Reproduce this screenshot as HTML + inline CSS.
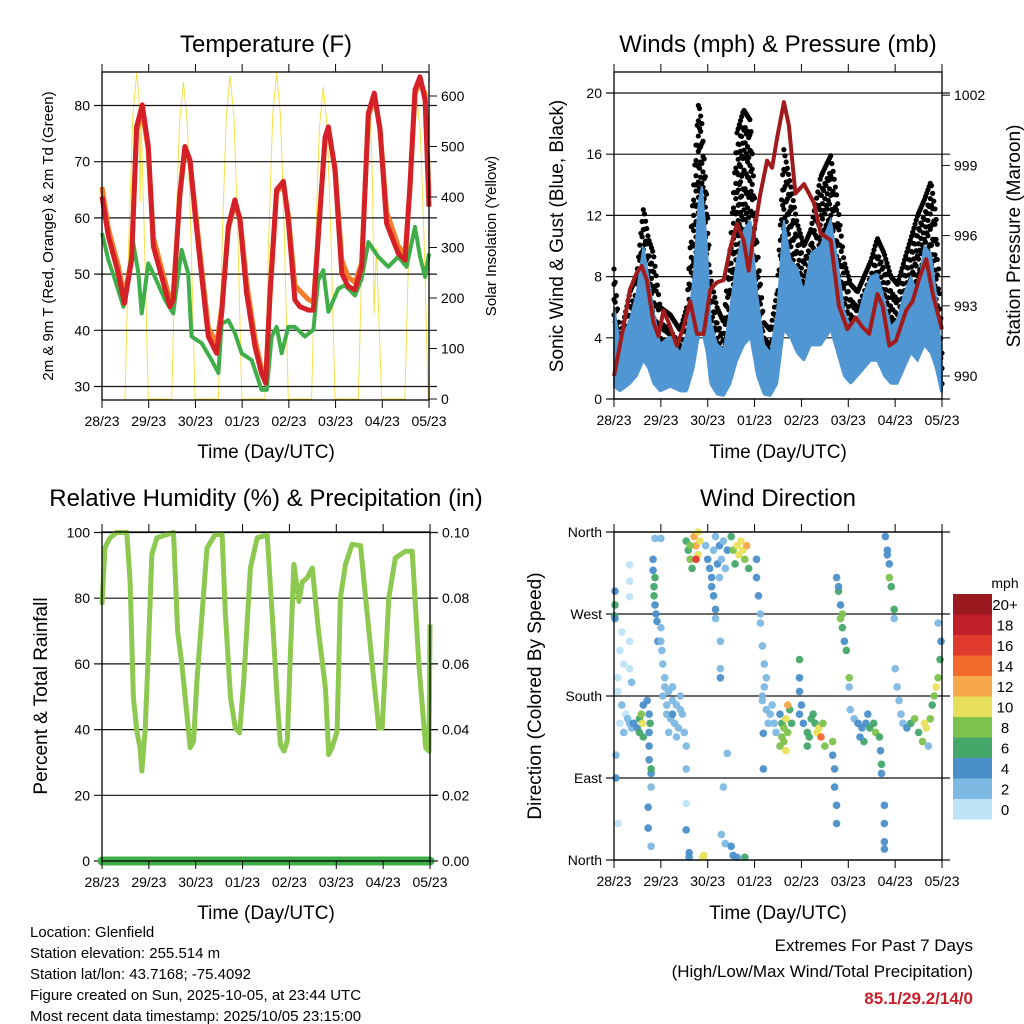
<!DOCTYPE html>
<html><head><meta charset="utf-8"><style>
html,body{margin:0;padding:0;background:#fff}
svg{display:block;font-family:"Liberation Sans",Arial,sans-serif}
</style></head><body>
<svg id="chart" width="1024" height="1024" viewBox="0 0 1024 1024">
<rect x="0" y="0" width="1024" height="1024" fill="#fff"/>
<text x="266" y="52" font-size="24" text-anchor="middle">Temperature (F)</text>
<text x="778" y="52" font-size="24" text-anchor="middle">Winds (mph) &amp; Pressure (mb)</text>
<text x="266" y="506" font-size="24" text-anchor="middle">Relative Humidity (%) &amp; Precipitation (in)</text>
<text x="778" y="506" font-size="24" text-anchor="middle">Wind Direction</text>
<text transform="translate(53,236) rotate(-90)" font-size="15" text-anchor="middle">2m &amp; 9m T (Red, Orange) &amp; 2m Td (Green)</text>
<text transform="translate(496,236) rotate(-90)" font-size="15" text-anchor="middle">Solar Insolation (Yellow)</text>
<text transform="translate(563,236) rotate(-90)" font-size="19" text-anchor="middle">Sonic Wind &amp; Gust (Blue, Black)</text>
<text transform="translate(1020,236) rotate(-90)" font-size="19" text-anchor="middle">Station Pressure (Maroon)</text>
<text transform="translate(47,696) rotate(-90)" font-size="19" text-anchor="middle">Percent &amp; Total Rainfall</text>
<text transform="translate(541,696) rotate(-90)" font-size="19" text-anchor="middle">Direction (Colored By Speed)</text>
<text x="266" y="458" font-size="19" text-anchor="middle">Time (Day/UTC)</text>
<text x="778" y="458" font-size="19" text-anchor="middle">Time (Day/UTC)</text>
<text x="266" y="919" font-size="19" text-anchor="middle">Time (Day/UTC)</text>
<text x="778" y="919" font-size="19" text-anchor="middle">Time (Day/UTC)</text>
<g font-size="15">
<text x="30" y="937">Location: Glenfield</text>
<text x="30" y="958">Station elevation: 255.514 m</text>
<text x="30" y="979">Station lat/lon: 43.7168; -75.4092</text>
<text x="30" y="1000">Figure created on Sun, 2025-10-05, at 23:44 UTC</text>
<text x="30" y="1021">Most recent data timestamp: 2025/10/05 23:15:00</text>
</g>
<text x="973" y="951" font-size="17" text-anchor="end">Extremes For Past 7 Days</text>
<text x="973" y="977" font-size="17" text-anchor="end">(High/Low/Max Wind/Total Precipitation)</text>
<text x="973" y="1004" font-size="17" font-weight="bold" fill="#c8202a" text-anchor="end">85.1/29.2/14/0</text>
</svg>
<script>
// ---------- data ----------
const dayLabels=['28/23','29/23','30/23','01/23','02/23','03/23','04/23','05/23'];
const tempTicks=[30,40,50,60,70,80];
const solarTicks=[0,100,200,300,400,500,600];
const windTicks=[0,4,8,12,16,20];
const presTicks=[990,993,996,999,1002];
const rhTicks=[0,20,40,60,80,100];
const precipTicks=['0.00','0.02','0.04','0.06','0.08','0.10'];
const dirLabels=['North','East','South','West','North'];
const dirTicks=[0,90,180,270,360];
const speedBins=['0','2','4','6','8','10','12','14','16','18','20+'];

const redH=[0,3.3,8.4,11.5,15.2,17.8,20.7,23.8,26.4,30.6,34.9,36.6,40,42.6,45.2,47.8,51.2,54.6,58.9,61.5,64.9,68.3,70.9,74.3,78.6,82,84.1,86.3,89.7,93.2,95.7,99.1,101.7,106,108.6,110.3,114.6,116.3,119.7,123.2,126.5,130,133.4,136.8,139.9,142.8,146.2,148.8,152.2,155.7,158.2,160.8,163.4,166,168];
const redT=[63.8,56.7,50.1,44.8,52.5,76.2,80.1,72.7,54.9,49.6,44.2,45.4,64.4,72.7,70.3,60.8,49.6,38.9,35.9,43,58.5,63.2,59.6,46.6,37.1,32.3,30.6,46.6,65,66.5,59.6,45.4,44.2,43.6,43.6,52.5,74.4,76.2,68.5,50.1,47.8,47.2,51.3,78.6,82.2,75.7,59,56.7,53.7,52.5,65.6,82.8,85.1,81,62];
const orangeT=[65.5,58,51.5,46,53,75.5,79,72,56.5,51,45.5,46.5,64,72,70,62,51,40.5,37.5,44,58,62.5,60,48.5,38.5,33,31.5,46,64.5,66,60.5,48,47,45.5,45,53,74,75.5,69,52.5,49.5,48.5,52,78,81.5,76,61,58.5,55,53.5,65,82,84.5,82,64];
const dewH=[0,3.3,6.7,11,13.5,16.1,18.7,20.4,23.8,27.2,32.4,36.6,40.9,44.3,46,51.2,56.3,59.8,61.5,64.9,68.3,71.7,76.9,82,84.6,87.2,89.7,92.3,95.7,99.1,104.3,108.6,111.1,113.7,116.3,121.4,124.8,130,133.4,136.8,141.9,147.1,152.2,156.5,160.8,163.4,166,168];
const dewT=[57.3,52.5,49,44.2,49.5,55.5,50.1,43,51.9,49.5,45.4,43,54.3,50.1,38.9,37.7,34.7,32.4,41.2,41.8,39.5,35.9,34.7,29.4,29.4,38.9,40.6,35.9,40.6,40.6,38.9,40.1,48.9,50.7,43.3,47.4,48,46.2,49.2,55.7,53.1,51.3,53.1,51.3,58.4,53.1,49.5,53.7];
const solarH=[11.8,13.8,15.8,17.8,19,19.6,20,21.8,23.8, 35.8,37.8,39.8,41.8,43.8,45.8,47.8, 59.8,61.8,63.8,65.8,67.8,69.8,71.8, 83.7,85.7,87.7,89.7,91.7,93.7,95.7, 107.7,109.7,111.7,113.7,115.7,117.7,119.7, 131.7,133.7,135.7,137.7,139,139.8,141,143.7, 155.6,157.6,159.6,161.6,163.6,165.6,167.6];
const solarV=[0,320,560,645,600,390,560,320,0, 0,314,546,628,546,314,0, 0,320,557,640,557,320,0, 0,322,561,645,561,322,0, 0,309,538,618,538,309,0, 0,293,510,586,420,170,300,0, 0,303,527,606,527,303,0];

const windH=[0,3.1,8.2,11.6,15.1,17.6,20.2,23.6,28.8,33.9,37.3,40.8,43.3,45,47.6,49.3,52.7,56.2,59.6,63,66.4,69.9,73.3,76.7,80.1,83.6,87,90.4,93.8,97.3,100.7,105.8,111,114.4,117.8,121.2,124.7,128.1,131.5,134.9,138.4,141.8,145.2,148.6,152.1,155.5,158.9,162.3,164.9,167.5,168];
const windHi=[6,3.6,5.2,6.9,10,8,5.8,3.6,4.1,3,4.3,8,12.8,13.9,10,5.2,3.6,3.2,6,9.1,11,11.7,6.9,3.6,3,5.8,11.7,9.1,8.6,6.9,9.5,10,11.7,9.1,5.8,4.7,5.2,6.9,8,8.2,6.5,4.7,5.2,6.9,8,6.9,10,9.5,6.9,3.2,1.9];
const windLo=[0.8,0.5,1,1.5,2.5,2,1,0.5,0.8,0.5,0.5,2,4,4.5,3,1,0.3,0.2,1,2.5,3.5,4,1.5,0.3,0.2,1,4.5,4,3,2.5,3.5,3.5,4.5,3,1.5,1,1.5,2,2.5,2.5,1.5,1,1,2,3,2.5,3.5,3,2,0.5,0.5];
const gustV=[8.5,4,7,8,12.5,10.5,9.5,6,5.5,4.5,6,14,19.4,18,13,8,6,5,10,17.4,18.9,18.2,10,5,4.5,7,16.3,14,11.5,10,11,14.5,15.9,13,9,7.5,7,8,9,10.5,9.5,8,7.5,9,10.5,12,13,14.2,12,5,3];
const presH=[0,4.8,8.2,11.6,14.2,16.8,20.2,22.8,25.3,27.9,32.2,35.6,39,42.5,45.9,49.3,52.7,56.2,59.6,63,66.4,69,71.6,75,78.4,81,83.6,87,89.6,92.9,97.3,102.4,105.8,111,115.2,119.5,123.8,127.2,130.7,134.9,137.6,141,144.4,149.6,153,156.4,159.9,163.3,166.7,168];
const presV=[990,992.1,993.7,994.4,994.7,994.1,992.3,991.7,992.8,992.3,991.3,992.1,993.2,991.8,991.8,993.7,994,994.1,995.5,996.5,995.8,994.5,996.1,997.8,999.2,998.9,1000.2,1001.7,1000.7,997.8,998.2,997.4,996.1,995.8,993,992,992.5,992.1,991.8,993.5,993,991.3,991.5,992.8,993.2,994.2,995,993.5,992.4,992];

const rhH=[0,1.5,4.1,7.5,12.7,14.4,16.1,17.8,19.5,20.4,22.1,23.8,25.5,28.1,36.6,38.7,40.9,43.5,45.2,46.9,48.6,51.2,53.8,58,61.5,63.2,65.8,68.3,70.5,72.6,76,79.5,84.6,87.2,89.7,91.4,93.2,94.9,96.6,98.3,100.9,102.6,105.1,107.7,110.9,114.4,116.1,117.8,120.4,122.1,124.7,128.1,132.4,138.4,141.8,143.5,146.9,150.3,152.9,155.5,158.9,162.3,165.8,167.5,168.5];
const rhV=[78,95.3,98.4,100,100,85,49.7,39.5,34.5,27.4,39.5,64.9,93.3,98.4,100,70,59.8,44.6,34.5,36.5,54.7,75,95.3,99.4,99.4,75,49.7,40.5,39,54.7,89.2,98.4,99.2,75,49.7,35.5,33.5,36.5,64.9,90.3,79,85,86.2,89.2,70,52.7,32.4,34.5,39.5,80.1,90.3,96.4,96,59.8,40.5,40.5,80.1,92.3,93.3,94.3,94.3,59.8,34.5,33.5,72];
const precipH=[0,168];
const precipV=[0,0];

const dirH=[0.5,0.5,0.3,0.5,2,4,6,8,3,5,7,9,2,3,4,5,8,9,1,1,2,8,8,8,8,10,12,13,14,14.5,13,15,15,17,18,18,18,18,19,18.5,19,20,20.5,20.5,21,21.5,22,22.5,21,20,19,17.5,17.5,19,21,24,24,24.5,25,26,25,24,26,28,30,32,34,27,29,31,33,35,30,28,32,36,30,27,34,37,37,37,37,37,38,39,40,41,42,43,44,43,42,39,38.5,38.5,45.5,46,47,48,49,50,51,52,53,54,55,56,57,58,50,51,52,52,54,61,63,64,66,67,65,62,68,60,69,54.5,54.5,54.5,56,55,57,60,61,63,67,58,73,74,75,75,73,76,77,78,76,77,76.5,76.5,76,78,80,82,79,81,83,85,86,87,88,89,90,87,88,86,89,91,85,95,95,95,96,95,97,99,100,101,99,103,104,105,106,107,108,102,112,112,113,113,114,114,114,115,116,117,117,118,119,115,116,120.5,120.5,121,123,125,127,129,131,133,134,136,128,130,126,136.5,137,137,138.5,138.5,138.5,138.5,139,140,141,141,142,140,143.5,143.5,144,145,146,147,148,150,152,154,156,158,160,162,163,164,165,166,167,167.5,166,161,159];
const dirV=[295,280,268,265,185,170,160,150,150,140,155,145,200,230,250,215,210,195,115,90,40,240,324,306,289,150,145,155,160,150,140,135,170,175,160,140,125,110,95,150,100,318,300,290,280,270,262,240,310,330,80,58,35,15,353,353,255,230,215,200,180,240,190,185,175,170,165,160,155,150,145,160,190,140,135,140,160,170,180,125,100,62,33,350,340,330,320,355,345,335,350,360,330,345,8,3,3,5,345,330,320,310,340,355,325,345,330,350,320,340,300,290,275,265,310,340,345,335,340,330,350,325,345,355,320,240,210,200,80,28,18,15,5,3,3,117,310,290,270,260,330,235,215,200,180,190,139,100,175,165,160,150,150,170,140,160,150,145,155,140,165,130,120,135,170,150,125,220,200,185,170,160,150,140,135,155,125,150,140,145,135,150,125,160,130,115,100,80,60,40,310,295,280,270,255,240,230,300,265,200,190,165,155,150,145,150,145,150,140,135,130,160,135,120,105,95,60,40,20,12,355,340,325,310,300,335,275,265,210,190,175,160,150,145,150,155,140,130,145,155,170,180,190,200,220,240,260,125,150];
const dirS=[4,6,6,4,1,2,1,2,1,2,2,3,1,0,0,1,1,2,2,4,1,1,1,1,1,4,4,6,8,10,6,6,4,4,4,4,4,4,4,6,6,4,6,6,4,4,4,4,6,4,2,4,4,2,2,2,2,2,2,2,2,2,2,2,2,2,2,2,2,2,2,2,2,2,2,2,4,2,2,2,2,1,4,6,6,8,6,12,12,10,10,10,16,8,4,4,10,10,2,4,4,4,2,2,4,4,2,2,2,4,4,4,4,2,2,8,10,10,10,8,10,6,12,6,6,2,2,4,2,2,2,4,4,4,6,2,4,4,2,2,4,2,2,2,2,2,4,4,2,2,2,2,2,2,2,4,6,8,10,8,6,8,10,8,12,6,8,6,4,4,4,4,4,6,6,6,6,6,10,10,14,8,8,6,8,4,4,4,4,4,4,6,4,8,6,4,6,4,8,8,2,2,2,4,4,4,6,6,8,6,6,4,4,4,6,4,4,4,4,4,4,4,4,8,6,4,6,2,2,2,2,2,2,4,6,8,6,8,10,8,6,8,10,8,6,4,2,2,10,6];
const speedColors=['#bfe3f7','#7db8e3','#4a8fc9','#45a86a','#7dc24c','#e8e05a','#f7a84a','#f26a2c','#e03a2c','#c1202a','#9b1a1f'];

// ---------- helpers ----------
const NS='http://www.w3.org/2000/svg';
const svg=document.getElementById('chart');
function mk(tag,attrs,parent){const e=document.createElementNS(NS,tag);for(const k in attrs)e.setAttribute(k,attrs[k]);(parent||svg).appendChild(e);return e;}
function interp(hs,vs,h){if(h<=hs[0])return vs[0];for(let i=1;i<hs.length;i++){if(h<=hs[i]){const f=(h-hs[i-1])/(hs[i]-hs[i-1]);return vs[i-1]+f*(vs[i]-vs[i-1]);}}return vs[vs.length-1];}
function pts(hs,vs,xf,yf){return hs.map((h,i)=>xf(h).toFixed(1)+','+yf(vs[i]).toFixed(1)).join(' ');}

const P={
 temp:{L:102,R:429,T:72,B:400},
 wind:{L:614,R:942,T:72,B:399},
 rh:{L:102,R:430,T:532,B:861},
 dir:{L:614,R:942,T:532,B:860}
};
function xs(p){return h=>p.L+Math.min(Math.max(h,0),168)*(p.R-p.L)/168;}
const xT=xs(P.temp),xW=xs(P.wind),xR=xs(P.rh),xD=xs(P.dir);
const yT=v=>386.5-(v-30)*5.62;
const yS=v=>399-v*0.505;
const yW=v=>399-v*15.3;
const yP=v=>376-(v-990)*23.4;
const yRH=v=>861-v*3.285;
const yPr=v=>861-v*3285;
const yD=v=>860-v*328/360;

function xAxis(p,xf,name){
 const g=mk('g',{});
 
 
 dayLabels.forEach((lab,i)=>{
  const x=xf(i*24);
  const t=mk('line',{x1:x,y1:p.B,x2:x,y2:p.B+8,stroke:'#000','stroke-width':1},g);
  
  
  const t2=mk('line',{x1:x,y1:p.T,x2:x,y2:p.T-8,stroke:'#000','stroke-width':1},g);
  
  
  const tx=mk('text',{x:x,y:p.B+26,'font-size':14,'text-anchor':'middle'},g);
  tx.textContent=lab;
  
  
 });
}
function frame(p,name){
 const r=mk('rect',{x:p.L,y:p.T,width:p.R-p.L,height:p.B-p.T,fill:'none',stroke:'#000','stroke-width':1.3});
 
 
}
function yAxisLeft(p,ticks,labels,yf,name,grid){
 ticks.forEach((v,i)=>{
  const y=yf(v);
  const l=mk('line',{x1:p.L-8,y1:y,x2:grid?p.R+8:p.L,y2:y,stroke:'#111','stroke-width':1.2});
  
  
  const t=mk('text',{x:p.L-12,y:y+5,'font-size':14,'text-anchor':'end'});
  t.textContent=labels[i];
  
  
 });
}
function yAxisRight(p,ticks,labels,yf,name){
 ticks.forEach((v,i)=>{
  const y=yf(v);
  const l=mk('line',{x1:p.R,y1:y,x2:p.R+8,y2:y,stroke:'#111','stroke-width':1});
  
  
  const t=mk('text',{x:p.R+12,y:y+5,'font-size':14,'text-anchor':'start'});
  t.textContent=labels[i];
  
  
 });
}

// ---------- temperature ----------
const solar=mk('polyline',{points:pts(solarH,solarV,xT,yS),fill:'none',stroke:'#f6e04a','stroke-width':1});


yAxisLeft(P.temp,tempTicks,tempTicks,yT,'temperature',true);
const orange=mk('polyline',{points:pts(redH,orangeT,xT,yT),fill:'none',stroke:'#f47c2c','stroke-width':5,'stroke-linejoin':'round'});


const dew=mk('polyline',{points:pts(dewH,dewT,xT,yT),fill:'none',stroke:'#3fae49','stroke-width':4,'stroke-linejoin':'round'});


const red=mk('polyline',{points:pts(redH,redT,xT,yT),fill:'none',stroke:'#d42027','stroke-width':5,'stroke-linejoin':'round'});


frame(P.temp,'temperature');
yAxisRight(P.temp,solarTicks,solarTicks,yS,'solar');
xAxis(P.temp,xT,'temperature');

// ---------- winds ----------
yAxisLeft(P.wind,windTicks,windTicks,yW,'wind',true);
(function(){
 let up=[],lo=[];
 for(let h=0;h<=168;h+=0.5){up.push(xW(h).toFixed(1)+','+yW(interp(windH,windHi,h)).toFixed(1));}
 for(let h=168;h>=0;h-=0.5){lo.push(xW(h).toFixed(1)+','+yW(interp(windH,windLo,h)).toFixed(1));}
 let k=0;
 for(let h=0;h<=168;h+=0.6){
  const top=interp(windH,gustV,h), base=interp(windH,windHi,h)-1;
  const step=(k%2)?1.3:1.0;
  for(let v=top;v>base;v-=step){
   const c=mk('circle',{cx:xW(h),cy:yW(v),r:2.6,fill:'#000'});
   
   
  }
  k++;
 }
 const ba=mk('polygon',{points:up.concat(lo).join(' '),fill:'#5096d2',stroke:'#5096d2','stroke-width':2});
 
 
})();
const pres=mk('polyline',{points:pts(presH,presV,xW,yP),fill:'none',stroke:'#a01c1c','stroke-width':4,'stroke-linejoin':'round'});


frame(P.wind,'wind');
yAxisRight(P.wind,presTicks,presTicks,yP,'pressure');
xAxis(P.wind,xW,'wind');

// ---------- humidity ----------
yAxisLeft(P.rh,rhTicks,rhTicks,yRH,'humidity',true);
const rh=mk('polyline',{points:pts(rhH,rhV,xR,yRH),fill:'none',stroke:'#8dc850','stroke-width':5,'stroke-linejoin':'round'});


const pr=mk('polyline',{points:pts(precipH,precipV,xR,yPr),fill:'none',stroke:'#3fae49','stroke-width':9,'stroke-linecap':'round'});


frame(P.rh,'humidity');
yAxisRight(P.rh,rhTicks.map(v=>v/1000),precipTicks,yPr,'precipitation');
xAxis(P.rh,xR,'humidity');

// ---------- wind direction ----------
yAxisLeft(P.dir,dirTicks,dirLabels,yD,'direction',true);
dirH.forEach((h,i)=>{
 const s=dirS[i]===undefined?2:dirS[i];
 const bin=Math.min(Math.floor(s/2),10);
 const c=mk('circle',{cx:xD(h),cy:yD(dirV[i]),r:3.8,fill:speedColors[bin],'fill-opacity':0.95});
 
 
});
frame(P.dir,'direction');
xAxis(P.dir,xD,'direction');

// ---------- colorbar ----------
const mph=mk('text',{x:1005,y:588,'font-size':14,'text-anchor':'middle'});
mph.textContent='mph';


for(let k=0;k<11;k++){
 const bi=10-k;
 const y=594+k*20.5;
 const r=mk('rect',{x:953,y:y,width:39,height:20.5,fill:speedColors[bi]});
 
 
 const t=mk('text',{x:1005,y:y+16,'font-size':15,'text-anchor':'middle'});
 t.textContent=speedBins[bi];
 
 
}
</script>
</body></html>
